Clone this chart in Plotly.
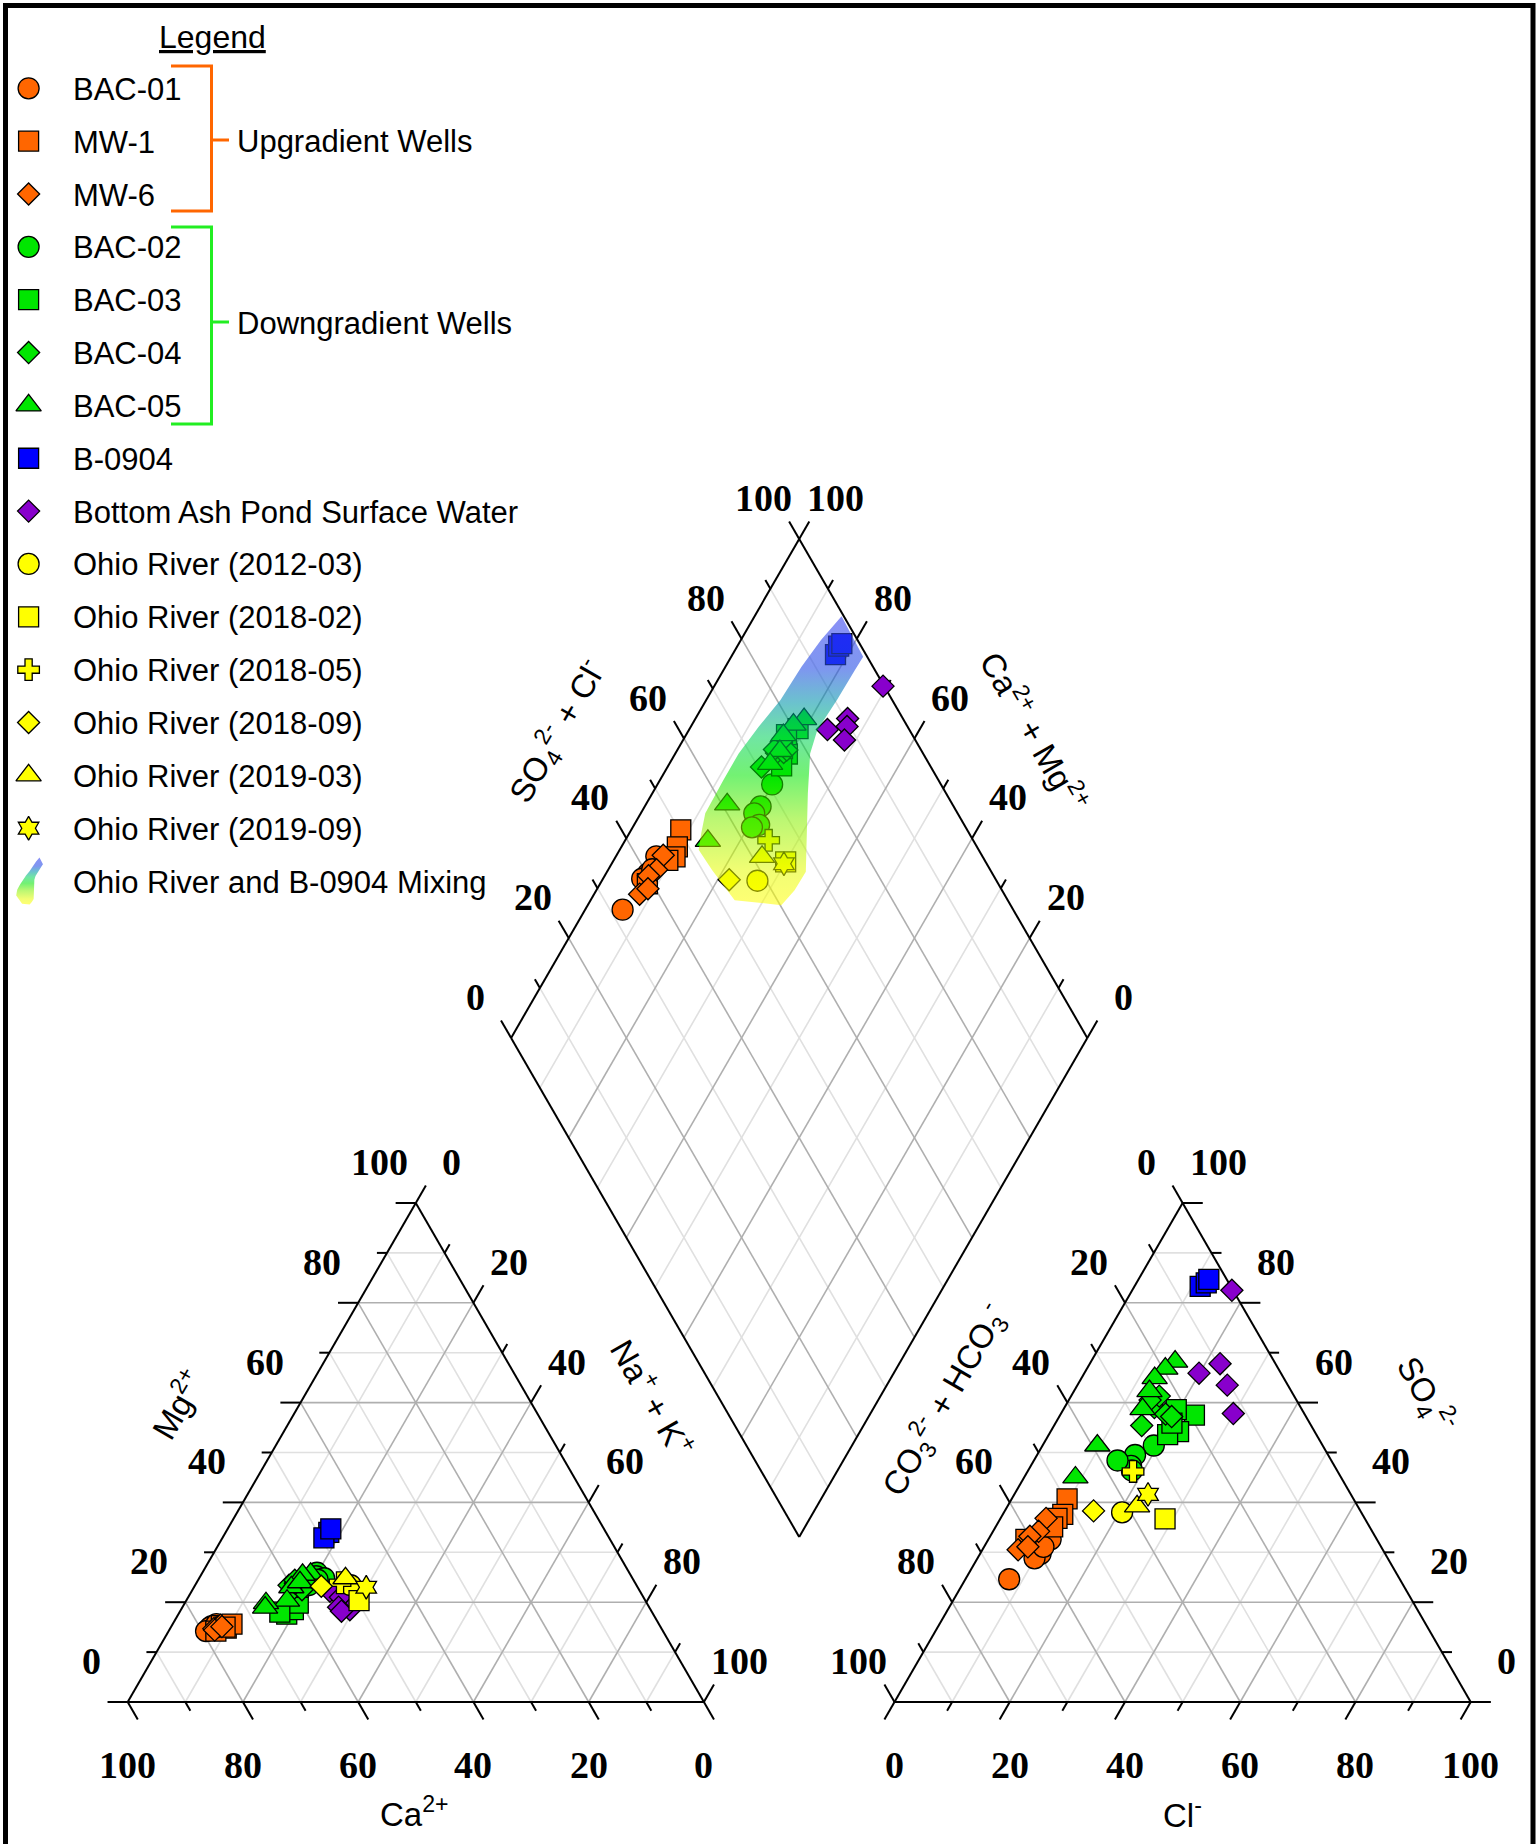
import numpy as np
import plotly.graph_objects as go

# ---------------- DATA (percent of meq/L) ----------------
TICK_VALUES = [0, 20, 40, 60, 80, 100]

BAC01_CA   = [77.8, 78.1, 78.3, 79.3, 76.8]
BAC01_MG   = [15.2, 14.6, 14.9, 14.2, 15.6]
BAC01_NAK  = [7.0, 7.3, 6.8, 6.5, 7.6]
BAC01_HCO3 = [56.6, 59.8, 61.3, 67.8, 58.6]
BAC01_SO4  = [32.6, 29.7, 28.8, 24.6, 31.1]
BAC01_CL   = [10.8, 10.5, 9.9, 7.6, 10.3]

MW1_CA   = [76.1, 75.5, 74.1, 77.6, 75.6]
MW1_MG   = [15.3, 14.8, 15.6, 14.2, 15.0]
MW1_NAK  = [8.6, 9.7, 10.3, 8.2, 9.4]
MW1_HCO3 = [49.7, 52.0, 53.4, 60.9, 55.0]
MW1_SO4  = [40.7, 37.6, 36.8, 32.6, 35.1]
MW1_CL   = [9.6, 10.4, 9.8, 6.5, 9.9]

MW6_CA   = [76.9, 76.2, 77.7, 77.7, 76.1]
MW6_MG   = [15.0, 15.4, 14.7, 14.4, 15.1]
MW6_NAK  = [8.1, 8.4, 7.6, 7.9, 8.8]
MW6_HCO3 = [55.3, 57.9, 59.9, 63.3, 61.3]
MW6_SO4  = [36.8, 34.2, 33.2, 30.5, 31.1]
MW6_CL   = [7.9, 7.9, 6.9, 6.2, 7.6]

BAC02_CA   = [54.2, 54.7, 56.9, 53.5, 54.8]
BAC02_MG   = [25.9, 25.2, 23.4, 24.8, 24.5]
BAC02_NAK  = [19.9, 20.1, 19.7, 21.7, 20.7]
BAC02_HCO3 = [29.3, 33.5, 35.3, 35.6, 37.1]
BAC02_SO4  = [51.4, 49.5, 47.3, 46.4, 48.4]
BAC02_CL   = [19.3, 17.0, 17.4, 18.0, 14.5]

BAC03_CA   = [63.6, 62.0, 60.5, 64.6, 58.9]
BAC03_MG   = [17.6, 18.5, 19.8, 18.0, 23.0]
BAC03_NAK  = [18.8, 19.5, 19.7, 17.4, 18.1]
BAC03_HCO3 = [19.2, 23.6, 25.8, 21.8, 23.9]
BAC03_SO4  = [57.5, 54.2, 53.6, 58.6, 55.9]
BAC03_CL   = [23.3, 22.2, 20.6, 19.6, 20.2]

BAC04_CA   = [60.3, 59.7, 57.3, 58.5, 59.0, 58.8]
BAC04_MG   = [23.4, 22.8, 24.0, 22.5, 23.8, 24.4]
BAC04_NAK  = [16.3, 17.5, 18.7, 19.0, 17.2, 16.8]
BAC04_HCO3 = [29.4, 25.4, 24.1, 23.3, 23.4, 25.4]
BAC04_SO4  = [55.4, 59.0, 57.7, 57.2, 61.3, 60.5]
BAC04_CL   = [15.2, 15.6, 18.2, 19.5, 15.3, 14.1]

BAC05_CA   = [55.4, 56.9, 60.1, 58.1, 62.2, 66.1, 66.7]
BAC05_MG   = [25.7, 25.5, 23.0, 24.0, 20.3, 19.8, 18.9]
BAC05_NAK  = [18.9, 17.6, 16.9, 17.9, 17.5, 14.1, 14.4]
BAC05_HCO3 = [17.2, 19.6, 22.4, 24.6, 27.6, 39.1, 46.1]
BAC05_SO4  = [68.2, 66.8, 64.9, 62.3, 58.7, 51.4, 45.0]
BAC05_CL   = [14.6, 13.6, 12.7, 13.1, 13.7, 9.5, 8.9]

B0904_CA   = [48.1, 49.5, 47.4]
B0904_MG   = [34.0, 32.9, 34.7]
B0904_NAK  = [17.9, 17.6, 17.9]
B0904_HCO3 = [5.3, 3.9, 3.1]
B0904_SO4  = [83.3, 84.0, 84.7]
B0904_CL   = [11.4, 12.1, 12.2]

BAP_CA   = [52.2, 53.8, 52.6, 53.9, 53.8]
BAP_MG   = [18.5, 22.2, 21.0, 19.0, 18.2]
BAP_NAK  = [29.3, 24.0, 26.4, 27.1, 28.0]
BAP_HCO3 = [0.2, 14.2, 9.6, 10.5, 12.3]
BAP_SO4  = [82.5, 65.9, 67.8, 63.5, 57.8]
BAP_CL   = [17.3, 19.9, 22.6, 26.0, 29.9]

OR1203_CA, OR1203_MG, OR1203_NAK = [49.6], [23.4], [27.0]
OR1203_HCO3, OR1203_SO4, OR1203_CL = [41.5], [38.0], [20.5]
OR1802_CA, OR1802_MG, OR1802_NAK = [49.7], [20.3], [30.0]
OR1802_HCO3, OR1802_SO4, OR1802_CL = [34.7], [36.7], [28.6]
OR1805_CA, OR1805_MG, OR1805_NAK = [51.2], [23.9], [24.9]
OR1805_HCO3, OR1805_SO4, OR1805_CL = [35.5], [46.2], [18.3]
OR1809_CA, OR1809_MG, OR1809_NAK = [54.8], [23.2], [22.0]
OR1809_HCO3, OR1809_SO4, OR1809_CL = [46.3], [38.3], [15.4]
OR1903_CA, OR1903_MG, OR1903_NAK = [49.8], [24.8], [25.4]
OR1903_HCO3, OR1903_SO4, OR1903_CL = [38.3], [39.2], [22.5]
OR1909_CA, OR1909_MG, OR1909_NAK = [47.1], [23.0], [29.9]
OR1909_HCO3, OR1909_SO4, OR1909_CL = [35.2], [41.6], [23.2]

# Ohio River / B-0904 mixing envelope in the diamond (SO4+Cl %, Ca+Mg %)
MIX_ANION  = [99.6, 99.3, 96.5, 90.4, 84.0, 80.4, 76.0, 70.7, 67.8, 64.0, 60.2,
              52.6, 51.7, 51.4, 53.5, 56.2, 62.6, 68.0, 74.2, 80.6, 87.6, 93.6]
MIX_CATION = [84.9, 77.1, 77.2, 77.3, 77.7, 76.6, 73.0, 68.3, 65.5, 65.6, 66.4,
              75.0, 81.9, 86.3, 87.5, 88.8, 89.0, 89.0, 88.2, 87.1, 86.8, 86.1]

SERIES = [
    ("BAC-01", BAC01_CA, BAC01_MG, BAC01_NAK, BAC01_HCO3, BAC01_SO4, BAC01_CL),
    ("MW-1", MW1_CA, MW1_MG, MW1_NAK, MW1_HCO3, MW1_SO4, MW1_CL),
    ("MW-6", MW6_CA, MW6_MG, MW6_NAK, MW6_HCO3, MW6_SO4, MW6_CL),
    ("BAC-02", BAC02_CA, BAC02_MG, BAC02_NAK, BAC02_HCO3, BAC02_SO4, BAC02_CL),
    ("BAC-03", BAC03_CA, BAC03_MG, BAC03_NAK, BAC03_HCO3, BAC03_SO4, BAC03_CL),
    ("BAC-04", BAC04_CA, BAC04_MG, BAC04_NAK, BAC04_HCO3, BAC04_SO4, BAC04_CL),
    ("BAC-05", BAC05_CA, BAC05_MG, BAC05_NAK, BAC05_HCO3, BAC05_SO4, BAC05_CL),
    ("B-0904", B0904_CA, B0904_MG, B0904_NAK, B0904_HCO3, B0904_SO4, B0904_CL),
    ("Bottom Ash Pond Surface Water", BAP_CA, BAP_MG, BAP_NAK, BAP_HCO3, BAP_SO4, BAP_CL),
    ("Ohio River (2012-03)", OR1203_CA, OR1203_MG, OR1203_NAK, OR1203_HCO3, OR1203_SO4, OR1203_CL),
    ("Ohio River (2018-02)", OR1802_CA, OR1802_MG, OR1802_NAK, OR1802_HCO3, OR1802_SO4, OR1802_CL),
    ("Ohio River (2018-05)", OR1805_CA, OR1805_MG, OR1805_NAK, OR1805_HCO3, OR1805_SO4, OR1805_CL),
    ("Ohio River (2018-09)", OR1809_CA, OR1809_MG, OR1809_NAK, OR1809_HCO3, OR1809_SO4, OR1809_CL),
    ("Ohio River (2019-03)", OR1903_CA, OR1903_MG, OR1903_NAK, OR1903_HCO3, OR1903_SO4, OR1903_CL),
    ("Ohio River (2019-09)", OR1909_CA, OR1909_MG, OR1909_NAK, OR1909_HCO3, OR1909_SO4, OR1909_CL),
]

# ---------------- STYLE ----------------
ORANGE, GREEN, BLUE, PURPLE, YELLOW = "#FF6600", "#00E600", "#0000FF", "#8800CC", "#FFFF00"
STYLE = {
    "BAC-01": ("circle", ORANGE, 21), "MW-1": ("square", ORANGE, 20), "MW-6": ("diamond", ORANGE, 17),
    "BAC-02": ("circle", GREEN, 21), "BAC-03": ("square", GREEN, 20), "BAC-04": ("diamond", GREEN, 17),
    "BAC-05": ("triangle-up", GREEN, 22), "B-0904": ("square", BLUE, 20),
    "Bottom Ash Pond Surface Water": ("diamond", PURPLE, 17),
    "Ohio River (2012-03)": ("circle", YELLOW, 21), "Ohio River (2018-02)": ("square", YELLOW, 20),
    "Ohio River (2018-05)": ("cross", YELLOW, 18), "Ohio River (2018-09)": ("diamond", YELLOW, 17),
    "Ohio River (2019-03)": ("triangle-up", YELLOW, 22), "Ohio River (2019-09)": ("hexagram", YELLOW, 18),
}
SANS = "Liberation Sans, Arial, sans-serif"
SERIF = "Liberation Serif, Times New Roman, serif"
LEG_FS = 31
TITLE_FS = 33

# ---------------- GEOMETRY ----------------
W, H = 1538, 1844
PX = 5.762              # pixels per unit (triangle side = 100 units)
X0, BASE = 127.7, 1702.0
GAP = 33.08
S3 = np.sqrt(3) / 2
XA = 100 + GAP
XD, YD = 100 + GAP / 2, S3 * GAP


def u(px, py):
    return ((px - X0) / PX, (BASE - py) / PX)


def cat_xy(mg, nak):
    mg, nak = np.asarray(mg, float), np.asarray(nak, float)
    return nak + mg / 2, S3 * mg


def an_xy(so4, cl):
    so4, cl = np.asarray(so4, float), np.asarray(cl, float)
    return XA + cl + so4 / 2, S3 * so4


def dia_xy(a, c):
    a, c = np.asarray(a, float), np.asarray(c, float)
    return XD + 0.5 * (a - c), YD + S3 * (a + c)


fig = go.Figure()


def add_lines(segs, color, width):
    xs, ys = [], []
    for (x1, y1), (x2, y2) in segs:
        xs += [float(x1), float(x2), None]
        ys += [float(y1), float(y2), None]
    fig.add_trace(go.Scatter(x=xs, y=ys, mode="lines", line=dict(color=color, width=width),
                             hoverinfo="skip", showlegend=False))


# grid lines
light, dark = [], []
for v in range(10, 100, 10):
    tgt = dark if v % 20 == 0 else light
    tgt.append((cat_xy(v, 0), cat_xy(v, 100 - v)))
    tgt.append((cat_xy(0, v), cat_xy(100 - v, v)))
    tgt.append((cat_xy(0, 100 - v), cat_xy(100 - v, 0)))
    tgt.append((an_xy(v, 0), an_xy(v, 100 - v)))
    tgt.append((an_xy(0, v), an_xy(100 - v, v)))
    tgt.append((an_xy(0, 100 - v), an_xy(100 - v, 0)))
    tgt.append((dia_xy(v, 0), dia_xy(v, 100)))
    tgt.append((dia_xy(0, v), dia_xy(100, v)))
add_lines(light, "#E0E0E0", 1.6)
add_lines(dark, "#AFAFAF", 1.6)

# outlines
outl = [
    (cat_xy(0, 0), cat_xy(0, 100)), (cat_xy(0, 100), cat_xy(100, 0)), (cat_xy(100, 0), cat_xy(0, 0)),
    (an_xy(0, 0), an_xy(0, 100)), (an_xy(0, 100), an_xy(100, 0)), (an_xy(100, 0), an_xy(0, 0)),
    (dia_xy(0, 0), dia_xy(0, 100)), (dia_xy(0, 100), dia_xy(100, 100)),
    (dia_xy(100, 100), dia_xy(100, 0)), (dia_xy(100, 0), dia_xy(0, 0)),
]
# ticks
ticks = []
dirs = {"W": (-1, 0), "E": (1, 0), "SE": (0.5, -S3), "SW": (-0.5, -S3), "NE": (0.5, S3), "NW": (-0.5, S3)}
for v in range(0, 101, 10):
    ln = 3.5 if v % 20 == 0 else 1.75
    for p, d in [(cat_xy(v, 0), "W"), (cat_xy(0, 100 - v), "SE"), (cat_xy(100 - v, v), "NE"),
                 (an_xy(100 - v, 0), "NW"), (an_xy(0, v), "SW"), (an_xy(v, 100 - v), "E"),
                 (dia_xy(v, 100), "NW"), (dia_xy(100, v), "NE")]:
        dx, dy = dirs[d]
        ticks.append((p, (p[0] + dx * ln, p[1] + dy * ln)))
add_lines(outl + ticks, "black", 2)

# data points
for name, ca, mg, nak, hco3, so4, cl in SERIES:
    ca, mg, nak = np.array(ca), np.array(mg), np.array(nak)
    hco3, so4, cl = np.array(hco3), np.array(so4), np.array(cl)
    tc, ta = ca + mg + nak, hco3 + so4 + cl
    mgp, nap = 100 * mg / tc, 100 * nak / tc
    so4p, clp = 100 * so4 / ta, 100 * cl / ta
    cx, cy = cat_xy(mgp, nap)
    ax, ay = an_xy(so4p, clp)
    dx, dy = dia_xy(so4p + clp, 100 - nap)
    sym, col, sz = STYLE[name]
    fig.add_trace(go.Scatter(
        x=np.concatenate([cx, ax, dx]), y=np.concatenate([cy, ay, dy]), mode="markers",
        marker=dict(symbol=sym, color=col, size=sz, line=dict(color="black", width=1.3)),
        name=name, hoverinfo="skip", showlegend=False))

# mixing envelope (semi-transparent gradient, drawn over the points)
MIX_SCALE = [[0, "rgba(255,255,0,0.55)"], [0.12, "rgba(230,252,0,0.55)"], [0.3, "rgba(130,240,0,0.55)"],
             [0.45, "rgba(0,230,0,0.55)"], [0.58, "rgba(0,210,90,0.56)"], [0.7, "rgba(0,150,170,0.58)"],
             [0.82, "rgba(40,80,230,0.6)"], [1, "rgba(60,70,240,0.6)"]]
mx, my = dia_xy(MIX_ANION, MIX_CATION)
fig.add_trace(go.Scatter(x=list(mx) + [mx[0]], y=list(my) + [my[0]], mode="lines", fill="toself",
                         line=dict(width=0, color="rgba(0,0,0,0)"),
                         fillgradient=dict(type="vertical", colorscale=MIX_SCALE),
                         hoverinfo="skip", showlegend=False))

annotations = []


def label(x, y, text, size=38, family=SERIF, angle=0, xanchor="center", bold=True):
    annotations.append(dict(x=float(x), y=float(y), xref="x", yref="y", showarrow=False,
                            text=("<b>%s</b>" % text) if bold else text, textangle=angle,
                            xanchor=xanchor, yanchor="middle",
                            font=dict(family=family, size=size, color="black")))


OFF_L, OFF_R, OFF_B = (-36 / PX, 41 / PX), (36 / PX, 41 / PX), (0, -62.5 / PX)
for v in TICK_VALUES:
    s = str(v)
    for (px_, py_), off in [(cat_xy(v, 0), OFF_L), (cat_xy(100 - v, v), OFF_R), (cat_xy(0, 100 - v), OFF_B),
                            (an_xy(100 - v, 0), OFF_L), (an_xy(v, 100 - v), OFF_R), (an_xy(0, v), OFF_B),
                            (dia_xy(v, 100), OFF_L), (dia_xy(100, v), OFF_R)]:
        label(px_ + off[0], py_ + off[1], s)

# axis titles
for (pxx, pyy), txt, ang in [
    ((177, 1404), "Mg<sup>2+</sup>", -60),
    ((653, 1397), "Na<sup>+</sup> + K<sup>+</sup>", 60),
    ((414, 1812), "Ca<sup>2+</sup>", 0),
    ((944, 1400), "CO<sub>3</sub><sup>2-</sup> + HCO<sub>3</sub><sup>-</sup>", -60),
    ((1426, 1394), "SO<sub>4</sub><sup>2-</sup>", 60),
    ((1182, 1813), "Cl<sup>-</sup>", 0),
    ((557, 731), "SO<sub>4</sub><sup>2-</sup> + Cl<sup>-</sup>", -60),
    ((1035, 731), "Ca<sup>2+</sup> + Mg<sup>2+</sup>", 60),
]:
    x_, y_ = u(pxx, pyy)
    label(x_, y_, txt, size=TITLE_FS, family=SANS, angle=ang, bold=False)

# ---------------- LEGEND ----------------
ROW0, ROWSTEP = 88.3, 52.85
LEG_MX, LEG_TX = 28.6, 71
x_, y_ = u(212, 37)
label(x_, y_, "<u>Legend</u>", size=LEG_FS + 1, family=SANS, bold=False)
for i, (name, *_r) in enumerate(SERIES):
    sym, col, sz = STYLE[name]
    mxu, myu = u(LEG_MX, ROW0 + ROWSTEP * i)
    fig.add_trace(go.Scatter(x=[mxu], y=[myu], mode="markers",
                             marker=dict(symbol=sym, color=col, size=sz, line=dict(color="black", width=1.3)),
                             hoverinfo="skip", showlegend=False))
    tx, ty = u(LEG_TX, ROW0 + ROWSTEP * i + 1)
    label(tx, ty, name, size=LEG_FS, family=SANS, xanchor="left", bold=False)
# mixing legend glyph: the envelope shape shrunk into the legend row
i_mix = len(SERIES)
gx, gy = np.array(mx), np.array(my)
sc = 47 / PX / (gy.max() - gy.min())
cxm, cym = u(LEG_MX + 1, ROW0 + ROWSTEP * i_mix)
gx2 = cxm + (gx - (gx.max() + gx.min()) / 2) * sc
gy2 = cym + (gy - (gy.max() + gy.min()) / 2) * sc
fig.add_trace(go.Scatter(x=list(gx2) + [gx2[0]], y=list(gy2) + [gy2[0]], mode="lines", fill="toself",
                         line=dict(width=0, color="rgba(0,0,0,0)"),
                         fillgradient=dict(type="vertical", colorscale=MIX_SCALE),
                         hoverinfo="skip", showlegend=False))
tx, ty = u(LEG_TX, ROW0 + ROWSTEP * i_mix + 1)
label(tx, ty, "Ohio River and B-0904 Mixing", size=LEG_FS, family=SANS, xanchor="left", bold=False)

# group brackets
for col, top, mid, bot, txt in [("#FF6600", 66, 140, 211, "Upgradient Wells"),
                                ("#22EE22", 227, 322, 424, "Downgradient Wells")]:
    pts = [u(171, top), u(211.5, top), u(211.5, bot), u(171, bot)]
    fig.add_trace(go.Scatter(x=[p[0] for p in pts] + [None, u(211.5, mid)[0], u(229, mid)[0]],
                             y=[p[1] for p in pts] + [None, u(211.5, mid)[1], u(229, mid)[1]],
                             mode="lines", line=dict(color=col, width=3),
                             hoverinfo="skip", showlegend=False))
    tx, ty = u(235, mid + 1)
    label(tx, ty, txt, size=LEG_FS, family=SANS, xanchor="left", bold=False)

xr = [u(0, 0)[0], u(W, 0)[0]]
yr = [u(0, H)[1], u(0, 0)[1]]
fig.update_layout(
    width=W, height=H, margin=dict(l=0, r=0, t=0, b=0),
    paper_bgcolor="white", plot_bgcolor="white", showlegend=False,
    xaxis=dict(range=xr, visible=False, fixedrange=True),
    yaxis=dict(range=yr, visible=False, fixedrange=True),
    annotations=annotations,
    shapes=[dict(type="rect", xref="paper", yref="paper", x0=5.5 / W, x1=1533 / W,
                 y0=-0.02, y1=1 - 5.5 / H, line=dict(color="black", width=5))],
)
fig.write_html("out.html", config={"displayModeBar": False},
               post_script="document.body.style.margin='0px';")
